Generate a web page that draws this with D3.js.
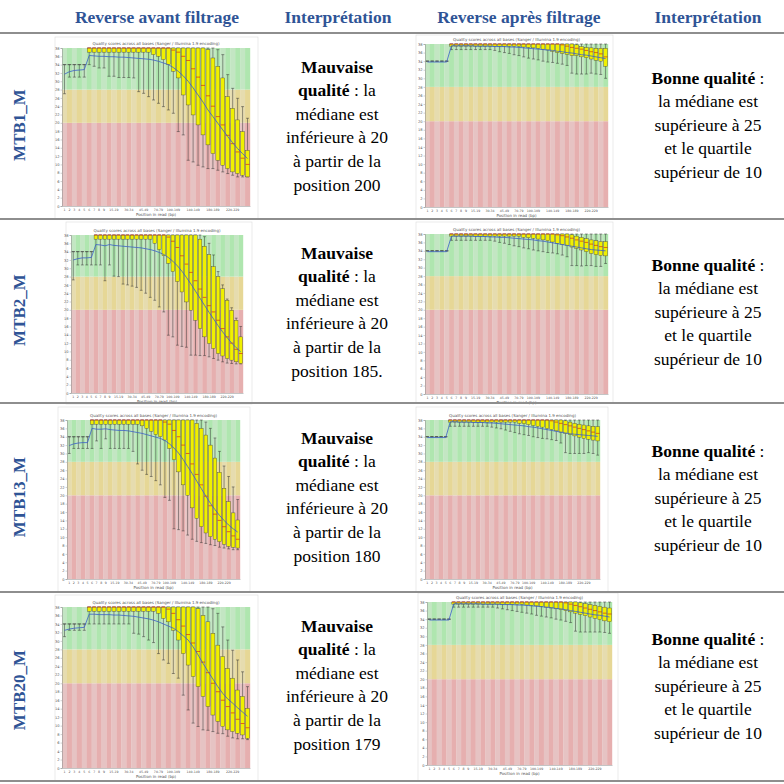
<!DOCTYPE html>
<html>
<head>
<meta charset="utf-8">
<script src="https://cdn.jsdelivr.net/npm/d3@7"></script>
<style>
  body { margin: 0; background: #fff; }
  svg { display: block; }
</style>
</head>
<body>
<div id="chart"></div>
<script>
// Column headers and row names of the table
var headers = ["Reverse avant filtrage", "Interprétation", "Reverse après filtrage", "Interprétation"];
var samples = ["MTB1_M", "MTB2_M", "MTB13_M", "MTB20_M"];

// Interpretation texts ([text, bold] segments per line)
var badPositions = ["position 200", "position 185.", "position 180", "position 179"];
var goodLines = [
  [["Bonne qualité", true], [" :", false]],
  [["la médiane est", false]],
  [["supérieure à 25", false]],
  [["et le quartile", false]],
  [["supérieur de 10", false]]
];

// FastQC base groups (x categories) and the labels printed under the axis
var groups = ["1","2","3","4","5","6","7","8","9","10-14","15-19","20-24","25-29","30-34","35-39","40-44","45-49",
  "50-59","60-69","70-79","80-89","90-99","100-109","110-119","120-129","130-139","140-149","150-159","160-169",
  "170-179","180-189","190-199","200-209","210-219","220-229","230-239","240-249","250-251"];
var xTickLabels = ["1","2","3","4","5","6","7","8","9","15-19","30-34","45-49","70-79","100-109","140-149","180-189","220-229"];
var yTicks = [0,2,4,6,8,10,12,14,16,18,20,22,24,26,28,30,32,34,36,38];

// ---- MTB1_M avant filtrage
var lo1a = [27,31,31,31,31, 34,33.6,33.2,33.2,31.2, 31.2,30.9,30.9,30.9,30.8, 27.5,27.1,26.3,25.5,24.7, 23.9,23.1,22.3,17.9,17.1, 11.0,10.6,9.8,9.4,9.0, 9.0,8.6,8.2,7.8,7.4, 7.0,7.0,7.0];
var q1_1a = [34,34,34,34,34, 37,37,37,37,37, 37,37,37,37,37, 37,37,37,36.4,36, 35.2,34,32.4,30.8,26.7, 24.3,21.9,19.5,17.1,14.7, 12.6,11,9.8,9,8.2, 7.8,7.4,7.0];
var med1a = [34,34,34,34,34, 38,38,38,38,38, 38,38,38,38,38, 38,38,38,38,38, 38,38,37.5,37,36, 35,33,31,29,26.5, 24,21.5,19.5,17,15, 13,11.5,10];
var q3_1a = [34,34,34,34,34, 38,38,38,38,38, 38,38,38,38,38, 38,38,38,38,38, 38,38,38,38,38, 38,38,38,38,37.6, 35.6,33.6,30.8,26.3,23.5, 20.7,17.9,13.4];
var hi1a = [34,34,34,34,34, 38,38,38,38,38, 38,38,38,38,38, 38,38,38,38,38, 38,38,38,38,38, 38,38,38,38,38, 38,37.6,36.4,31.6,28.3, 25.9,23.9,21.1];
var mean1a = [31.7,32.3,32.6,32.7,32.8, 36.2,36.1,36.0,36.0,35.9, 35.9,35.8,35.8,35.7,35.6, 35.5,35.4,35.3,35.1,34.8, 34.4,34.0,33.3,32.4,31.3, 30.0,28.4,26.7,25.0,23.1, 21.5,19.9,18.3,16.7,15.2, 13.8,12.6,11.4];

// ---- MTB2_M avant filtrage
var lo2a = [27.2,30.8,30.8,30.8,30.8, 30.8,30.8,27,30.8,28.1, 28,26.2,26,25.7,25.4, 24.7,24,23,22.3,20.7, 19.5,13.9,13.5,11.5,11.2, 11,9.1,9.1,9,9, 8.7,8.3,7.9,7.5,7.2, 7.1,7,7];
var q1_2a = [34,34,34,34,34, 37,37,37,37,37, 37,37,37,37,37, 37,37,37,36,34.5, 33,31.2,29.2,26.8,24.3, 21.9,19.9,17.5,15.5,13.5, 11.9,10.7,9.5,8.9,8.3, 7.9,7.5,7.1];
var med2a = [34,34,34,34,34, 38,38,38,38,38, 38,38,38,38,38, 38,38,38,38,38, 38,37.5,36.5,35,33, 31,29,27,25,23, 21,19.5,17.5,15.5,13.5, 12,10.5,9.5];
var q3_2a = [34,34,34,34,34, 38,38,38,38,38, 38,38,38,38,38, 38,38,38,38,38, 38,38,38,38,38, 38,38,38,37,35.3, 33.3,30.4,28,25.1,22.3, 19.9,17.5,13.5];
var hi2a = [34,34,34,34,34, 38,38,38,38,38, 38,38,38,38,38, 38,38,38,38,38, 38,38,38,38,38, 38,38,38,38,37.6, 36,33.2,29.2,26,22.6, 20.5,18,16];
var mean2a = [32,32.3,32.5,32.5,32.6, 35.7,35.6,35.4,35.7,35.5, 35.4,35.3,35.2,35.1,35.0, 34.9,34.7,34.5,34.2,33.8, 33.3,32.6,31.7,30.6,29.3, 27.8,26.2,24.5,22.8,21.1, 19.4,17.8,16.2,14.7,13.3, 12,10.9,9.9];

// ---- MTB13_M avant filtrage
var lo3a = [30,31.2,31.2,31.2,31.2, 31.2,33,31.2,33.5,31.2, 31.2,31.2,31.2,31.2,30.5, 27.5,26,25,24.5,23.5, 22.5,19.5,18.8,12,11.8, 11.5,10.5,9.5,9,8.7, 8.5,8.2,8,7.6,7.4, 7.2,7,7];
var q1_3a = [34,34,34,34,34, 37,37,37,37,37, 37,37,37,37,37, 37,36.6,36,35.3,34.5, 34,33.2,31.2,28.5,25.6, 22.5,20,17,14.5,12.5, 11,10.1,9.5,8.9,8.3, 7.8,7.6,7.4];
var med3a = [34,34,34,34,34, 38,38,38,38,38, 38,38,38,38,38, 38,38,38,38,38, 38,37.5,37,35.5,34, 32,30,27.5,25,22.5, 19.8,17.5,15.5,14,12.5, 11.3,10.3,9.5];
var q3_3a = [34,34,34,34,34, 38,38,38,38,38, 38,38,38,38,38, 38,38,38,38,38, 38,38,38,38,38, 38,38,38,37.2,36, 34.4,32,28.9,25.5,21.7, 18.5,15.8,14.1];
var hi3a = [34,34,34,34,34, 38,38,38,38,38, 38,38,38,38,38, 38,38,38,38,38, 38,38,38,38,38, 38,38,38,38,38, 37.5,36,33.7,30.5,27, 24.5,22,19];
var mean3a = [31.9,32.3,32.5,32.6,32.6, 36,35.8,35.8,35.9,35.7, 35.6,35.5,35.5,35.4,35.2, 35.0,34.8,34.5,34.2,33.9, 33.6,33.1,32.3,31.3,30.1, 28.6,26.9,25.2,23.4,21.6, 19.8,18.1,16.6,15.2,14, 12.9,12,11.2];

// ---- MTB20_M avant filtrage
var lo4a = [31,32.5,32.5,32.5,32.5, 34,34,34,34,34, 34,34,34,34,31.8, 31.6,31,30.2,29.6,27, 25.5,24.7,22.3,21.2,17.2, 13.7,10.6,9.8,9,8.9, 8.6,8.2,8.1,7.5,7.1, 6.9,6.9,6.7];
var q1_4a = [34,34,34,34,34, 37,37,37,37,37, 37,37,37,37,37, 37,37,37,37,36.5, 35.3,34.5,32.5,30.2,27, 24.3,21.6,19.2,16.9,14.5, 12.5,11,9.8,9,8.6, 8.2,7.8,7];
var med4a = [34,34,34,34,34, 38,38,38,38,38, 38,38,38,38,38, 38,38,38,38,38, 38,37.5,36.5,35,33.5, 31.5,29.5,27.5,25,22.5, 20,18,16,14.5,13, 11.5,10.5,9.5];
var q3_4a = [34,34,34,34,34, 38,38,38,38,38, 38,38,38,38,38, 38,38,38,38,38, 38,38,38,38,38, 38,38,37.6,36,34.5, 31.8,29,26.3,23.5,21.2, 18.4,16.9,14.1];
var hi4a = [34,34,34,34,34, 38,38,38,38,38, 38,38,38,38,38, 38,38,38,38,38, 38,38,38,38,38, 38,38,38,38,38, 37.6,36.5,33.3,30.2,27.8, 25.5,22.7,19.2];
var mean4a = [32.5,32.8,33,33.1,33.2, 36.3,36.3,36.2,36.2,36.2, 36.1,36.1,36.0,35.9,35.8, 35.6,35.4,35.2,34.9,34.5, 34.0,33.5,33.0,32.2,31.2, 30.2,28.6,26.7,24.7,22.8, 21.0,19.2,17.6,16.3,15.3, 14.2,13.2,12.2];

// ---- MTB1_M après filtrage
var lo1p = [34,34,34,34,34, 36.7,36.7,36.7,36.7,36.7, 36.7,36.7,36.7,36.7,36.5, 36.2,36,35.8,35.5,35.3, 35,34.7,34.5,34.3,34, 33.8,33.7,33.5,33.3,33, 31.2,31,31,31,31.2, 31,30.9,30];
var q1_1p = [34,34,34,34,34, 37.5,37.5,37.5,37.5,37.5, 37.5,37.5,37.5,37.5,37.5, 37.5,37.5,37.5,37.5,37.5, 37.3,37.2,37.1,37,36.8, 36.6,36.3,36,35.8,35.6, 35.3,35.3,35,34.8,34.5, 34.2,34,32.8];
var med1p = [34,34,34,34,34, 38,38,38,38,38, 38,38,38,38,38, 38,38,38,38,38, 38,38,38,38,38, 38,38,38,37.8,37.5, 37.2,37,36.8,36.5,36.2, 36,35.7,35];
var q3_1p = [34,34,34,34,34, 38,38,38,38,38, 38,38,38,38,38, 38,38,38,38,38, 38,38,38,38,38, 38,38,38,38,38, 38,37.8,37.4,37.2,37.1, 37,37,37];
var hi1p = [34,34,34,34,34, 38,38,38,38,38, 38,38,38,38,38, 38,38,38,38,38, 38,38,38,38,38, 38,38,38,38,38, 38,38,38,38,38, 38,38,38];
var mean1p = [33.8,33.8,33.8,33.8,33.8, 37.6,37.6,37.6,37.6,37.6, 37.5,37.5,37.5,37.5,37.4, 37.4,37.4,37.3,37.3,37.2, 37.1,37.0,36.9,36.8,36.7, 36.6,36.5,36.3,36.2,36.0, 35.9,35.7,35.5,35.4,35.2, 35.0,34.8,34.6];

// ---- MTB2_M après filtrage
var lo2p = [34,34,34,34,34, 36.5,36.5,36.5,36.5,36.5, 36.5,36.5,36.5,36.5,36.3, 36,35.8,35.5,35.2,35, 34.7,34.5,34.2,34,33.8, 33.6,33.5,33.3,33,32.6, 30.5,30.5,30.4,30.5,30.5, 30.3,30.3,31];
var q1_2p = [34,34,34,34,34, 37.5,37.5,37.5,37.5,37.5, 37.5,37.5,37.5,37.5,37.5, 37.5,37.5,37.5,37.5,37.5, 37.2,37.1,37,36.8,36.6, 36.4,36.1,35.8,35.5,35.2, 34.9,34.6,34.2,33.8,33.4, 33.1,32.9,32.8];
var med2p = [34,34,34,34,34, 38,38,38,38,38, 38,38,38,38,38, 38,38,38,38,38, 38,38,38,38,38, 38,38,37.8,37.6,37.3, 37,36.6,36.3,36,35.6, 35.3,35,34.8];
var q3_2p = [34,34,34,34,34, 38,38,38,38,38, 38,38,38,38,38, 38,38,38,38,38, 38,38,38,38,38, 38,38,38,38,38, 37.8,37.5,37.2,36.9,36.6, 36.4,36.2,36.2];
var hi2p = [34,34,34,34,34, 38,38,38,38,38, 38,38,38,38,38, 38,38,38,38,38, 38,38,38,38,38, 38,38,38,38,38, 38,38,38,38,38, 38,38,38];
var mean2p = [33.8,33.8,33.8,33.8,33.8, 37.5,37.5,37.5,37.5,37.5, 37.4,37.4,37.4,37.3,37.3, 37.2,37.2,37.1,37.0,36.9, 36.8,36.7,36.6,36.4,36.3, 36.1,35.9,35.7,35.5,35.3, 35.1,34.9,34.7,34.5,34.3, 34.2,34.1,34.0];

// ---- MTB13_M après filtrage
var lo3p = [34,34,34,34,34, 36.5,36.5,36.5,36.5,36.5, 36.5,36.5,36.5,36.5,36.3, 36.1,35.9,35.6,35.3,35, 34.7,34.5,34.3,34,33.8, 33.6,33.5,33.3,33.1,32.5, 30.2,30,30,30,30, 30.2,30,29.6];
var q1_3p = [34,34,34,34,34, 37.5,37.5,37.5,37.5,37.5, 37.5,37.5,37.5,37.5,37.5, 37.5,37.5,37.5,37.5,37.5, 37.2,37.1,36.9,36.7,36.5, 36.3,36,35.7,35.4,35.1, 34.8,34.5,34.2,33.9,33.6, 33.4,33.2,33];
var med3p = [34,34,34,34,34, 38,38,38,38,38, 38,38,38,38,38, 38,38,38,38,38, 38,38,38,38,38, 38,38,37.8,37.5,37.2, 36.9,36.6,36.3,36,35.7, 35.4,35.1,34.8];
var q3_3p = [34,34,34,34,34, 38,38,38,38,38, 38,38,38,38,38, 38,38,38,38,38, 38,38,38,38,38, 38,38,38,38,38, 37.8,37.5,37.2,37,36.8, 36.6,36.5,36.4];
var hi3p = [34,34,34,34,34, 38,38,38,38,38, 38,38,38,38,38, 38,38,38,38,38, 38,38,38,38,38, 38,38,38,38,38, 38,38,38,38,38, 38,38,38];
var mean3p = [33.8,33.8,33.8,33.8,33.8, 37.6,37.6,37.5,37.5,37.5, 37.4,37.4,37.4,37.3,37.3, 37.2,37.1,37.0,36.9,36.8, 36.7,36.6,36.4,36.3,36.1, 35.9,35.7,35.5,35.3,35.1, 34.9,34.7,34.6,34.5,34.4, 34.3,34.2,34.1];

// ---- MTB20_M après filtrage
var lo4p = [34,34,34,34,34, 36.8,36.8,36.8,36.8,36.8, 36.8,36.8,36.8,36.8,36.6, 36.4,36.2,36,35.8,35.6, 35.4,35.2,34.9,34.7,34.5, 34.3,34,33.8,33.5,33.2, 31.2,31,31,31,31, 31,30.9,30.7];
var q1_4p = [34,34,34,34,34, 37.5,37.5,37.5,37.5,37.5, 37.5,37.5,37.5,37.5,37.5, 37.5,37.5,37.5,37.5,37.5, 37.3,37.2,37.1,37,36.8, 36.6,36.4,36.2,36,35.7, 35.4,35.1,34.8,34.5,34.2, 33.9,33.6,33.4];
var med4p = [34,34,34,34,34, 38,38,38,38,38, 38,38,38,38,38, 38,38,38,38,38, 38,38,38,38,38, 38,38,38,37.8,37.5, 37.2,36.9,36.6,36.3,36, 35.7,35.4,35.2];
var q3_4p = [34,34,34,34,34, 38,38,38,38,38, 38,38,38,38,38, 38,38,38,38,38, 38,38,38,38,38, 38,38,38,38,38, 38,37.8,37.6,37.4,37.2, 37,36.8,36.6];
var hi4p = [34,34,34,34,34, 38,38,38,38,38, 38,38,38,38,38, 38,38,38,38,38, 38,38,38,38,38, 38,38,38,38,38, 38,38,38,38,38, 38,38,38];
var mean4p = [33.8,33.8,33.8,33.8,33.8, 37.6,37.6,37.6,37.6,37.6, 37.6,37.5,37.5,37.5,37.5, 37.4,37.4,37.4,37.3,37.3, 37.2,37.1,37.0,36.9,36.8, 36.7,36.5,36.4,36.2,36.0, 35.8,35.6,35.4,35.2,35.0, 34.9,34.7,34.5];

var blue = "#2f5496";
var serif = "Liberation Serif, Times New Roman, DejaVu Serif, serif";
var sans = "DejaVu Sans, sans-serif";

var svg = d3.select("#chart").append("svg")
  .attr("width", 784)
  .attr("height", 784);

// where each screenshot sits in the table: frame = image, plot = drawing area
var cells = [
  {frame: [55, 37, 258, 219], plot: [62, 48, 250, 206], s: [lo1a, q1_1a, med1a, q3_1a, hi1a, mean1a]},
  {frame: [416, 35, 613, 219], plot: [425, 44, 608, 207], s: [lo1p, q1_1p, med1p, q3_1p, hi1p, mean1p]},
  {frame: [66, 222, 252, 404], plot: [71, 235, 243, 393], s: [lo2a, q1_2a, med2a, q3_2a, hi2a, mean2a]},
  {frame: [416, 222, 613, 403], plot: [425, 234, 608, 394], s: [lo2p, q1_2p, med2p, q3_2p, hi2p, mean2p]},
  {frame: [58, 407, 250, 592], plot: [67, 420, 240, 579], s: [lo3a, q1_3a, med3a, q3_3a, hi3a, mean3a]},
  {frame: [416, 407, 608, 592], plot: [425, 420, 600, 579], s: [lo3p, q1_3p, med3p, q3_3p, hi3p, mean3p]},
  {frame: [55, 595, 258, 781], plot: [62, 607, 250, 768], s: [lo4a, q1_4a, med4a, q3_4a, hi4a, mean4a]},
  {frame: [418, 593, 618, 781], plot: [427, 602, 612, 765], s: [lo4p, q1_4p, med4p, q3_4p, hi4p, mean4p]}
];

var zones = [
  {from: 0, to: 20, c: ["#e6c3c3", "#e6afaf"]},
  {from: 20, to: 28, c: ["#e6dcaf", "#e6d796"]},
  {from: 28, to: 38, c: ["#c3e6c3", "#afe6af"]}
];

function drawChart(cell) {
  var p = cell.plot, f = cell.frame;
  var lo = cell.s[0], q1 = cell.s[1], med = cell.s[2], q3 = cell.s[3], hi = cell.s[4], mean = cell.s[5];
  var g = svg.append("g");

  g.append("rect")
    .attr("x", f[0]).attr("y", f[1])
    .attr("width", f[2] - f[0]).attr("height", f[3] - f[1])
    .attr("fill", "#fff")
    .attr("stroke", "#dcdcdc")
    .attr("stroke-width", 0.6);

  var x = d3.scaleBand().domain(groups).range([p[0], p[2]]);
  var y = d3.scaleLinear().domain([0, 38]).range([p[3], p[1]]);
  var bw = x.bandwidth();

  // coloured quality zones, alternating stripes
  zones.forEach(function(z) {
    g.selectAll(null)
      .data(groups)
      .enter()
      .append("rect")
      .attr("x", d => x(d))
      .attr("y", y(z.to))
      .attr("width", bw + 0.2)
      .attr("height", y(z.from) - y(z.to))
      .attr("fill", (d, i) => z.c[i % 2]);
  });

  var cols = groups.map(function(d, i) {
    return {g: d, lo: lo[i], q1: q1[i], med: med[i], q3: q3[i], hi: hi[i], mean: mean[i]};
  });

  // whiskers
  g.selectAll(null).data(cols).enter().append("line")
    .attr("x1", d => x(d.g) + bw / 2).attr("x2", d => x(d.g) + bw / 2)
    .attr("y1", d => y(d.lo)).attr("y2", d => y(d.hi))
    .attr("stroke", "#333").attr("stroke-width", 0.5);
  ["lo", "hi"].forEach(function(k) {
    g.selectAll(null).data(cols).enter().append("line")
      .attr("x1", d => x(d.g) + bw * 0.2).attr("x2", d => x(d.g) + bw * 0.8)
      .attr("y1", d => y(d[k])).attr("y2", d => y(d[k]))
      .attr("stroke", "#333").attr("stroke-width", 0.5);
  });

  // boxes (skip the ones squashed to a line)
  g.selectAll(null).data(cols.filter(d => d.q3 - d.q1 > 0.1)).enter().append("rect")
    .attr("x", d => x(d.g) + bw * 0.1)
    .attr("y", d => y(d.q3))
    .attr("width", bw * 0.8)
    .attr("height", d => y(d.q1) - y(d.q3))
    .attr("fill", "#f0f000")
    .attr("stroke", "#444")
    .attr("stroke-width", 0.4);

  // medians
  g.selectAll(null).data(cols).enter().append("line")
    .attr("x1", d => x(d.g) + bw * 0.1).attr("x2", d => x(d.g) + bw * 0.9)
    .attr("y1", d => y(d.med)).attr("y2", d => y(d.med))
    .attr("stroke", d => d.q3 - d.q1 > 0.1 ? "#d01010" : "#444")
    .attr("stroke-width", 0.6);

  // mean line
  var line = d3.line().x(d => x(d.g) + bw / 2).y(d => y(d.mean));
  g.append("path").datum(cols)
    .attr("d", line)
    .attr("fill", "none")
    .attr("stroke", "#3a5fc8")
    .attr("stroke-width", 0.8);

  // axes
  var yAxis = g.append("g")
    .attr("transform", `translate(${p[0]},0)`)
    .call(d3.axisLeft(y).tickValues(yTicks).tickSize(1.5).tickPadding(1));
  var xAxis = g.append("g")
    .attr("transform", `translate(0,${p[3]})`)
    .call(d3.axisBottom(x).tickValues(xTickLabels).tickSize(0).tickPadding(2.5));
  yAxis.selectAll("text").attr("font-size", 3.6);
  xAxis.selectAll("text").attr("font-size", 3.2);
  [yAxis, xAxis].forEach(function(a) {
    a.selectAll("text").attr("fill", "#555").attr("font-family", sans);
    a.selectAll("line").attr("stroke", "#888").attr("stroke-width", 0.4);
    a.select(".domain").attr("stroke", "#888").attr("stroke-width", 0.5);
  });

  g.append("text")
    .attr("x", (p[0] + p[2]) / 2).attr("y", p[1] - 3)
    .attr("text-anchor", "middle")
    .attr("font-family", sans)
    .attr("font-size", 4)
    .attr("fill", "#555")
    .text("Quality scores across all bases (Sanger / Illumina 1.9 encoding)");
  g.append("text")
    .attr("x", (p[0] + p[2]) / 2).attr("y", p[3] + 10)
    .attr("text-anchor", "middle")
    .attr("font-family", sans)
    .attr("font-size", 4)
    .attr("fill", "#555")
    .text("Position in read (bp)");
}

cells.forEach(drawChart);

// table header
var headerX = [157, 338, 519, 708];
svg.selectAll(".head")
  .data(headers)
  .enter()
  .append("text")
  .attr("class", "head")
  .attr("x", (d, i) => headerX[i])
  .attr("y", 23)
  .attr("text-anchor", "middle")
  .style("font-family", serif)
  .style("font-weight", "bold")
  .style("font-size", "17.5px")
  .attr("fill", blue)
  .text(d => d);

// table rules
var ruleY = [33, 219, 403, 592, 781];
svg.selectAll(".rule")
  .data(ruleY)
  .enter()
  .append("line")
  .attr("x1", 0).attr("x2", 784)
  .attr("y1", d => d).attr("y2", d => d)
  .attr("stroke", "#8e8e8e")
  .attr("stroke-width", 1.8);

// row names
var rowMid = [125, 310, 497, 690];
svg.selectAll(".rowname")
  .data(samples)
  .enter()
  .append("text")
  .attr("transform", (d, i) => `translate(25,${rowMid[i]}) rotate(-90)`)
  .attr("text-anchor", "middle")
  .style("font-family", serif)
  .style("font-weight", "bold")
  .style("font-size", "17px")
  .attr("fill", blue)
  .text(d => d);

function writeLines(cx, y0, lines) {
  lines.forEach(function(segs, i) {
    var t = svg.append("text")
      .attr("x", cx)
      .attr("y", y0 + i * 23.6)
      .attr("text-anchor", "middle")
      .style("font-family", serif)
      .style("font-size", "17.5px")
      .attr("fill", "#000");
    segs.forEach(function(s) {
      t.append("tspan")
        .style("font-family", serif)
        .style("font-weight", s[1] ? "bold" : "normal")
        .text(s[0]);
    });
  });
}

var badTop = [72.5, 258.5, 443.5, 631.5];
var goodTop = [83.5, 270.5, 456.5, 644.5];
samples.forEach(function(s, r) {
  var badLines = [
    [["Mauvaise", true]],
    [["qualité", true], [" : la", false]],
    [["médiane est", false]],
    [["inférieure à 20", false]],
    [["à partir de la", false]],
    [[badPositions[r], false]]
  ];
  writeLines(337, badTop[r], badLines);
  writeLines(708, goodTop[r], goodLines);
});
</script>
</body>
</html>
